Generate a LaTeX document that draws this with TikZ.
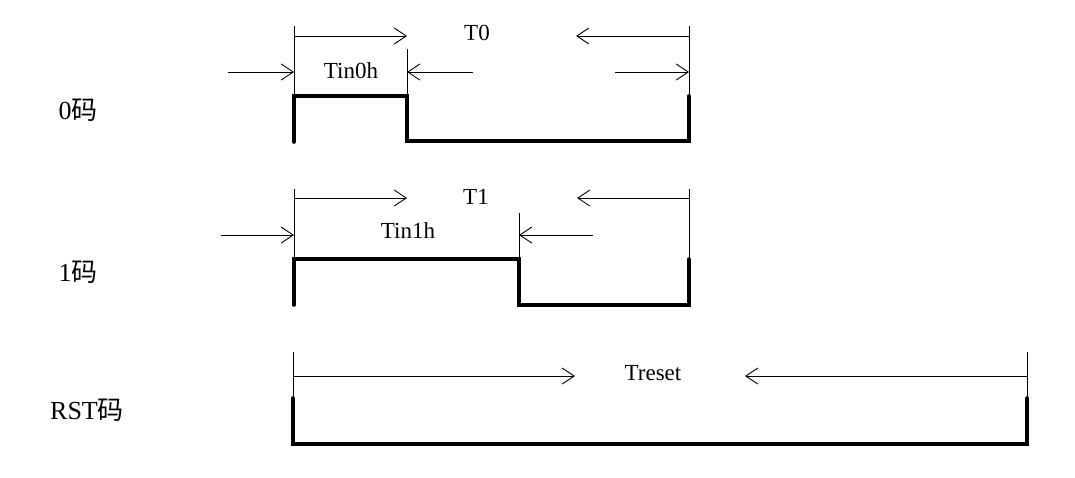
\documentclass[tikz,border=0pt]{standalone}
\usepackage{fontspec}
\setmainfont{Liberation Serif}
\newfontfamily\cjk{Noto Sans CJK SC}
\usetikzlibrary{arrows.meta}
\begin{document}
\begin{tikzpicture}[x=1pt,y=-1pt,
  dim/.style={line width=0.9pt,-{Straight Barb[length=12pt,width=16pt,line width=0.9pt]}},
  ext/.style={line width=0.9pt},
  sig/.style={line width=3.6pt,line cap=round,line join=miter},
  lbl/.style={font=\fontsize{23}{23}\selectfont,inner sep=0pt},
  code/.style={font=\fontsize{26}{26}\selectfont,inner sep=0pt}]
\useasboundingbox (0,0) rectangle (1075,477);

% ---------- 0 code ----------
\coordinate (z0) at (294,142);
\coordinate (z1) at (294,96);
\coordinate (z2) at (407,96);
\coordinate (z3) at (407,141);
\coordinate (z4) at (689,141);
\coordinate (z5) at (689,96);
\draw[sig] (z0) -- (z1) -- (z2) -- (z3) -- (z4) -- (z5);
\coordinate (z1t) at (294,26);
\coordinate (z2t) at (407,49);
\coordinate (z5t) at (689,26);
\draw[ext] (z1t) -- (z1);
\draw[ext] (z2t) -- (z2);
\draw[ext] (z5t) -- (z5);
% period T0
\coordinate (t0a) at (294,36);
\coordinate (t0b) at (407,36);
\coordinate (t0c) at (689,36);
\coordinate (t0d) at (576,36);
\draw[dim] (t0a) -- (t0b);
\draw[dim] (t0c) -- (t0d);
\node[lbl] (T0) at (477,33) {T0};
% high time Tin0h
\coordinate (h0a) at (228,72);
\coordinate (h0b) at (294,72);
\coordinate (h0c) at (473,72);
\coordinate (h0d) at (407,72);
\coordinate (h0e) at (615,72);
\coordinate (h0f) at (689,72);
\draw[dim] (h0a) -- (h0b);
\draw[dim] (h0c) -- (h0d);
\draw[dim] (h0e) -- (h0f);
\node[lbl] (Tin0h) at (351,71) {Tin0h};
\node[code] (c0) at (78,110) {0{\cjk 码}};

% ---------- 1 code ----------
\coordinate (o0) at (294,305);
\coordinate (o1) at (294,259);
\coordinate (o2) at (519,259);
\coordinate (o3) at (519,305);
\coordinate (o4) at (689,305);
\coordinate (o5) at (689,259);
\draw[sig] (o0) -- (o1) -- (o2) -- (o3) -- (o4) -- (o5);
\coordinate (o1t) at (294,189);
\coordinate (o2t) at (519,213);
\coordinate (o5t) at (689,189);
\draw[ext] (o1t) -- (o1);
\draw[ext] (o2t) -- (o2);
\draw[ext] (o5t) -- (o5);
% period T1
\coordinate (t1a) at (294,198);
\coordinate (t1b) at (407,198);
\coordinate (t1c) at (689,198);
\coordinate (t1d) at (577,198);
\draw[dim] (t1a) -- (t1b);
\draw[dim] (t1c) -- (t1d);
\node[lbl] (T1) at (476,197) {T1};
% high time Tin1h
\coordinate (h1a) at (221,235);
\coordinate (h1b) at (294,235);
\coordinate (h1c) at (593,235);
\coordinate (h1d) at (519,235);
\draw[dim] (h1a) -- (h1b);
\draw[dim] (h1c) -- (h1d);
\node[lbl] (Tin1h) at (408,231) {Tin1h};
\node[code] (c1) at (78,272) {1{\cjk 码}};

% ---------- reset code ----------
\coordinate (r0) at (293,398);
\coordinate (r1) at (293,444);
\coordinate (r2) at (1027,444);
\coordinate (r3) at (1027,398);
\draw[sig] (r0) -- (r1) -- (r2) -- (r3);
\coordinate (r0t) at (293,352);
\coordinate (r3t) at (1027,352);
\draw[ext] (r0t) -- (r0);
\draw[ext] (r3t) -- (r3);
\coordinate (tra) at (293,376);
\coordinate (trb) at (575,376);
\coordinate (trc) at (1027,376);
\coordinate (trd) at (745,376);
\draw[dim] (tra) -- (trb);
\draw[dim] (trc) -- (trd);
\node[lbl] (Treset) at (653,373) {Treset};
\node[code] (cr) at (87,410) {RST{\cjk 码}};
\end{tikzpicture}
\end{document}
